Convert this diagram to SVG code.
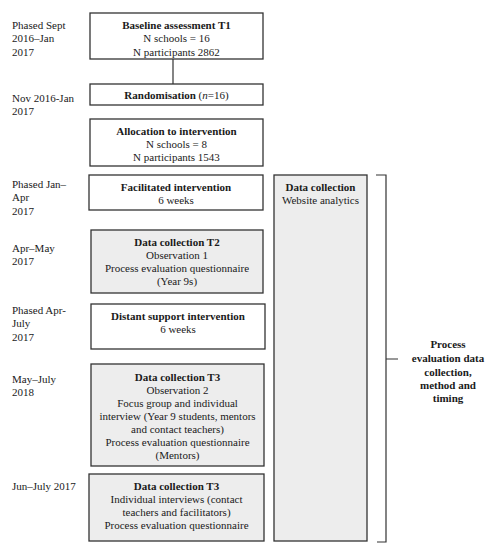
<svg xmlns="http://www.w3.org/2000/svg" width="492" height="550" viewBox="0 0 492 550">
<style>
text{font-family:"Liberation Serif","Times New Roman",serif;font-size:11px;fill:#1a1a1a}
.c{text-anchor:middle}
.b{font-weight:bold}
.box{fill:#fff;stroke:#333;stroke-width:1.3}
.g{fill:#ededed}
.ln{fill:none;stroke:#333;stroke-width:1.2}
</style>
<rect width="492" height="550" fill="#fff"/>
<g id="labels">
<text x="12" y="29">Phased Sept</text><text x="12" y="42">2016–Jan</text><text x="12" y="56">2017</text>
<text x="12" y="102">Nov 2016-Jan</text><text x="12" y="115">2017</text>
<text x="12" y="188">Phased Jan–</text><text x="12" y="201">Apr</text><text x="12" y="215">2017</text>
<text x="12" y="252">Apr–May</text><text x="12" y="265">2017</text>
<text x="12" y="314">Phased Apr-</text><text x="12" y="327">July</text><text x="12" y="341">2017</text>
<text x="12" y="383">May–July</text><text x="12" y="396">2018</text>
<text x="12" y="490">Jun–July 2017</text>
</g>
<g id="connectors"><line class="ln" x1="173" y1="59" x2="173" y2="84"/>
<path class="ln" d="M376,175 H386 V542 H377 M386,359 H398"/></g>
<g id="baseline"><rect class="box" x="90" y="13" width="173" height="46"/>
<text class="c b" x="176.5" y="29">Baseline assessment T1</text><text class="c" x="176.5" y="42">N schools = 16</text><text class="c" x="176.5" y="56">N participants 2862</text></g>
<g id="randomisation"><rect class="box" x="90" y="84" width="173" height="21"/>
<text class="c" x="176.5" y="99"><tspan class="b">Randomisation</tspan> (<tspan font-style="italic">n</tspan>=16)</text></g>
<g id="allocation"><rect class="box" x="90" y="119" width="173" height="47"/>
<text class="c b" x="176.5" y="135">Allocation to intervention</text><text class="c" x="176.5" y="148">N schools = 8</text><text class="c" x="176.5" y="161">N participants 1543</text></g>
<g id="facilitated"><rect class="box" x="89" y="175" width="174" height="35"/>
<text class="c b" x="176" y="191">Facilitated intervention</text><text class="c" x="176" y="204">6 weeks</text></g>
<g id="t2"><rect class="box g" x="91" y="230" width="172" height="63"/>
<text class="c b" x="177" y="246">Data collection T2</text><text class="c" x="177" y="259">Observation 1</text><text class="c" x="177" y="272">Process evaluation questionnaire</text><text class="c" x="177" y="285">(Year 9s)</text></g>
<g id="distant"><rect class="box" x="91" y="304" width="174" height="45"/>
<text class="c b" x="178" y="320">Distant support intervention</text><text class="c" x="178" y="333">6 weeks</text></g>
<g id="t3a"><rect class="box g" x="91" y="364" width="173" height="102"/>
<text class="c b" x="177.5" y="381">Data collection T3</text><text class="c" x="177.5" y="394">Observation 2</text><text class="c" x="177.5" y="407">Focus group and individual</text><text class="c" x="177.5" y="420">interview (Year 9 students, mentors</text><text class="c" x="177.5" y="433">and contact teachers)</text><text class="c" x="177.5" y="446">Process evaluation questionnaire</text><text class="c" x="177.5" y="459">(Mentors)</text></g>
<g id="t3b"><rect class="box g" x="89" y="474" width="175" height="67"/>
<text class="c b" x="176.5" y="490">Data collection T3</text><text class="c" x="176.5" y="503">Individual interviews (contact</text><text class="c" x="176.5" y="516">teachers and facilitators)</text><text class="c" x="176.5" y="529">Process evaluation questionnaire</text></g>
<g id="website"><rect class="box g" x="274" y="175" width="93" height="366"/>
<text class="c b" x="320.5" y="191">Data collection</text><text class="c" x="320.5" y="204">Website analytics</text></g>
<g id="process"><text class="c b" x="448" y="348">Process</text><text class="c b" x="448" y="362">evaluation data</text><text class="c b" x="448" y="376">collection,</text><text class="c b" x="448" y="389">method and</text><text class="c b" x="448" y="402">timing</text></g>
</svg>
